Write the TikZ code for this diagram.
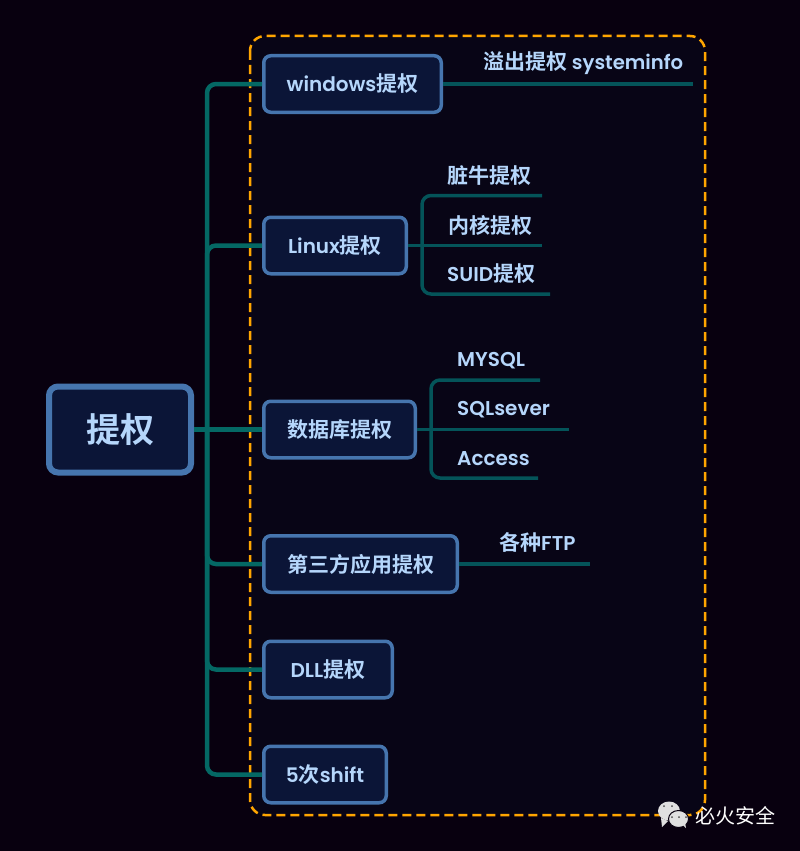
\documentclass[tikz,border=0pt]{standalone}
\usepackage{fontspec}
\setmainfont{Poppins}
\newfontfamily\cjk{Noto Sans CJK SC}
\newfontfamily\cjkb{Noto Sans CJK SC Bold}
\newfontfamily\lat{Poppins SemiBold}
\definecolor{bgc}{HTML}{08000F}
\definecolor{panel}{HTML}{080516}
\definecolor{boxf}{HTML}{0B1537}
\definecolor{boxd}{HTML}{4675AE}
\definecolor{txt}{HTML}{B5D6FB}
\definecolor{tealA}{HTML}{046864}
\definecolor{tealB}{HTML}{045459}
\definecolor{orng}{HTML}{FFA500}
\tikzset{
  x=1pt,y=-1pt,
  topbox/.style={draw=boxd,line width=3.5pt,fill=boxf,rounded corners=7pt,anchor=center,text=txt,inner sep=0pt,outer sep=1.75pt,align=center,minimum height=56.5pt},
  rootbox/.style={draw=boxd,line width=6pt,fill=boxf,rounded corners=9pt,anchor=center,text=txt,inner sep=0pt,outer sep=3pt,minimum width=142pt,minimum height=86pt,font=\cjkb\fontsize{34}{34}\selectfont},
  leaf/.style={text=txt,inner sep=0pt,anchor=west,font=\lat\fontsize{20}{22}\selectfont},
  mainline/.style={draw=tealA,line width=4.5pt,rounded corners=9pt},
  subline/.style={draw=tealB,line width=3.5pt,rounded corners=9pt},
  panelbox/.style={draw=orng,line width=2.5pt,dash pattern=on 9pt off 5pt,fill=panel,rounded corners=15pt},
  logo/.style={fill=white!88!black,draw=none},
}
\newcommand{\lb}[2]{{\lat\fontsize{20}{22}\selectfont #1}{\cjkb\fontsize{21}{22}\selectfont #2}}
\newcommand{\cn}[1]{{\cjkb\fontsize{21}{22}\selectfont #1}}
\begin{document}
\begin{tikzpicture}
\useasboundingbox (0,0) rectangle (800,851);
\fill[bgc] (0,0) rectangle (800,851);
\draw[panelbox] (250,36) rectangle (705,815);
% coordinates
\coordinate (sp) at (207,429.5);
\coordinate (w1) at (693,84);
\coordinate (l1) at (542,195.5);
\coordinate (l2) at (542,245);
\coordinate (l3) at (550,294);
\coordinate (d1) at (540,380);
\coordinate (d2) at (569,429);
\coordinate (d3) at (538,478);
\coordinate (f1) at (590,564);
\coordinate (lj) at (422,245);
\coordinate (dj) at (431,429.5);
% boxes
\node[rootbox] (root) at (120,429.5) {提权};
\node[topbox,minimum width=177.5pt] (win) at (352.5,84) {\lb{windows}{提权}};
\node[topbox,minimum width=142.5pt] (lin) at (335,245.5) {\lb{Linux}{提权}};
\node[topbox,minimum width=151.5pt] (db) at (339.5,429.5) {\cn{数据库提权}};
\node[topbox,minimum width=193.5pt] (tp) at (360.5,564) {\cn{第三方应用提权}};
\node[topbox,minimum width=128.5pt] (dll) at (328,669.5) {\lb{DLL}{提权}};
\node[topbox,minimum width=122.5pt] (sh) at (325,774.5) {\lb{5}{次}\lb{shift}{}};
% main connectors
\draw[mainline] (root) -- (db);
\draw[mainline] (sp) |- (win);
\draw[mainline] (sp) |- (lin);
\draw[mainline] (sp) |- (tp);
\draw[mainline] (sp) |- (dll);
\draw[mainline] (sp) |- (sh);
% sub connectors
\draw[subline] (win) -- (win -| w1);
\draw[subline] (lin) -- (lin -| l2);
\draw[subline] (lj) |- (l1);
\draw[subline] (lj) |- (l3);
\draw[subline] (db) -- (db -| d2);
\draw[subline] (dj) |- (d1);
\draw[subline] (dj) |- (d3);
\draw[subline] (tp) -- (tp -| f1);
% leaf labels
\node[leaf] (t1) at (483,63) {\cn{溢出提权} {\fontsize{19.6}{22}\selectfont systeminfo}};
\node[leaf] (t2) at (447,176) {\cn{脏牛提权}};
\node[leaf] (t3) at (448,225) {\cn{内核提权}};
\node[leaf] (t4) at (447,274) {SUID\cn{提权}};
\node[leaf] (t5) at (457,361) {MYSQL};
\node[leaf] (t6) at (457,410) {SQLsever};
\node[leaf] (t7) at (457,459) {Access};
\node[leaf] (t8) at (499,542.5) {\cn{各种}FTP};
% wechat logo
\fill[logo] (669,811) ellipse (11pt and 9.5pt);
\fill[logo] (661,818) -- (662,827) -- (668,821) -- cycle;
\draw[bgc,line width=1pt,fill=white!88!black] (678.5,819) ellipse (10pt and 8.5pt);
\fill[logo] (683,825) -- (686,828) -- (685,823) -- cycle;
\fill[black!70] (672,817) circle (1pt) (679,817) circle (1pt) (686,817) circle (1pt);
\fill[black!70] (664,806) circle (1pt) (672,806) circle (1pt);
\node[inner sep=0pt,text=white,font=\cjk\fontsize{20}{20}\selectfont] (wm) at (735,815.5) {必火安全};
\end{tikzpicture}
\end{document}
